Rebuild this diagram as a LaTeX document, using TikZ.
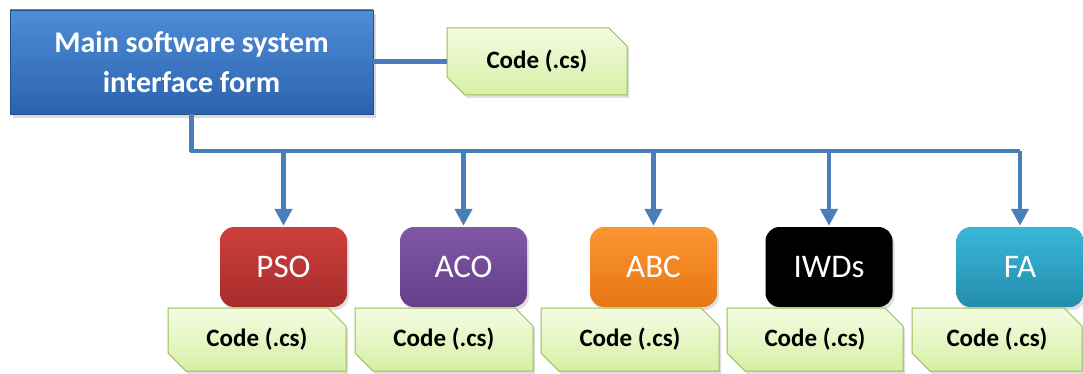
\documentclass[tikz,border=0pt]{standalone}
\usepackage{fontspec}
\setmainfont{Carlito}
\usetikzlibrary{shapes.misc,shadows,arrows.meta}
\definecolor{linkblue}{HTML}{4A7EBB}
\definecolor{codeborder}{HTML}{9BBB59}
\definecolor{codetop}{HTML}{F4FCE2}
\definecolor{codebot}{HTML}{D6F0A6}
\definecolor{maintop}{HTML}{4F8DD6}
\definecolor{mainbot}{HTML}{2B62AE}
\definecolor{psotop}{HTML}{CE3F3B}
\definecolor{psobot}{HTML}{A62D2D}
\definecolor{acotop}{HTML}{8058A8}
\definecolor{acobot}{HTML}{643E88}
\definecolor{abctop}{HTML}{FA9632}
\definecolor{abcbot}{HTML}{E87614}
\definecolor{fatop}{HTML}{38B8D8}
\definecolor{fabot}{HTML}{248CAC}
\tikzset{
  conn/.style={draw=linkblue,line width=4.5pt},
  arr/.style={conn,-{Triangle[length=17pt,width=17pt]},shorten >=1pt},
  codebox/.style={chamfered rectangle,chamfered rectangle corners={north east,south west},
    chamfered rectangle xsep=9pt,chamfered rectangle ysep=9pt,
    draw=codeborder,line width=1pt,top color=codetop,bottom color=codebot,
    inner sep=0pt,font=\bfseries\fontsize{25}{28}\selectfont,text=black,
    drop shadow={shadow xshift=2pt,shadow yshift=-3pt,opacity=0.25}},
  algbox/.style={rounded corners=14pt,inner sep=0pt,minimum width=127pt,minimum height=80pt,
    font=\fontsize{33}{36}\selectfont,text=white,
    drop shadow={shadow xshift=2pt,shadow yshift=-3pt,opacity=0.25}},
  mainbox/.style={rectangle,line width=0.8pt,top color=maintop,bottom color=mainbot,draw=mainbot!80!black,
    inner sep=0pt,minimum width=363pt,minimum height=104pt,
    font=\bfseries\fontsize{30}{40}\selectfont,text=white,align=center,
    drop shadow={shadow xshift=3pt,shadow yshift=-4pt,opacity=0.3}}
}
\begin{document}
\begin{tikzpicture}[x=1pt,y=-1pt]
\useasboundingbox (0,0) rectangle (1083,374);
% main
\node[mainbox] (main) at (191.5,62) {Main software system\\interface form};
\node[codebox,minimum width=180pt,minimum height=67pt] (code0) at (537,61.5) {Code (.cs)};
\draw[conn] (main.east |- code0.west) -- (code0.west);
% algorithm boxes
\node[algbox,top color=psotop,bottom color=psobot] (pso) at (283.5,267) {PSO};
\node[algbox,top color=acotop,bottom color=acobot] (aco) at (463.5,267) {ACO};
\node[algbox,top color=abctop,bottom color=abcbot] (abc) at (653.5,267) {ABC};
\node[algbox,fill=black] (iwds) at (829,267) {IWDs};
\node[algbox,top color=fatop,bottom color=fabot] (fa) at (1020,267) {FA};
% code boxes
\node[codebox,minimum width=178pt,minimum height=63pt] (c1) at (257,339.5) {Code (.cs)};
\node[codebox,minimum width=178pt,minimum height=63pt] (c2) at (444,339.5) {Code (.cs)};
\node[codebox,minimum width=178pt,minimum height=63pt] (c3) at (630,339.5) {Code (.cs)};
\node[codebox,minimum width=176pt,minimum height=63pt] (c4) at (815,339.5) {Code (.cs)};
\node[codebox,minimum width=170pt,minimum height=63pt] (c5) at (997,339.5) {Code (.cs)};
% tree
\coordinate (bus) at (191.5,151);
\draw[conn,line join=round] (main.south) -- (bus) -- (bus -| fa.north);
\draw[arr] (bus -| pso.north) -- (pso.north);
\draw[arr] (bus -| aco.north) -- (aco.north);
\draw[arr] (bus -| abc.north) -- (abc.north);
\draw[arr] (bus -| iwds.north) -- (iwds.north);
\draw[arr] (bus -| fa.north) -- (fa.north);
\end{tikzpicture}
\end{document}
